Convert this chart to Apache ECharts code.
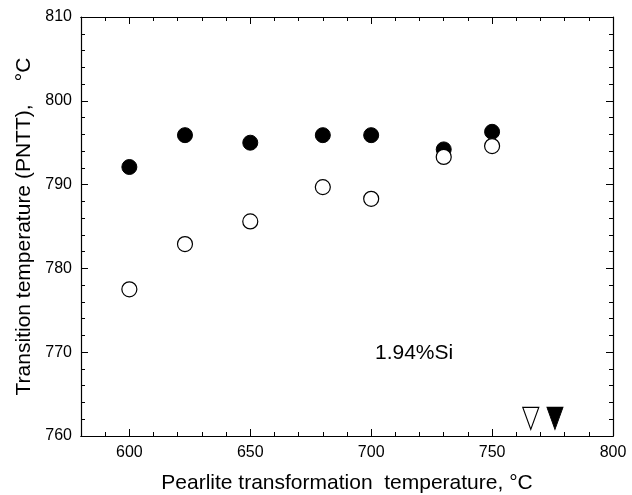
<!DOCTYPE html>
<html><head><meta charset="utf-8">
<script src="https://cdn.jsdelivr.net/npm/echarts@6/dist/echarts.min.js"></script>
<style>html,body{margin:0;padding:0;background:#fff}#c{width:632px;height:495px}</style>
</head><body><div id="c"></div>
<script>
const xTemps = [600, 623, 650, 680, 700, 730, 750];
const filledVals = [792.1, 795.9, 795.0, 795.9, 795.9, 794.2, 796.3];
const openVals = [777.5, 782.9, 785.6, 789.7, 788.3, 793.3, 794.6];
const openArrowX = 766;
const filledArrowX = 776;
const arrowY = 762.1;
const xTickLabels = [600, 650, 700, 750, 800];
const annotation = '1.94%Si';
const xName = 'Pearlite transformation  temperature, °C';
const yName = 'Transition temperature (PNTT),    °C';

const font = 'Liberation Sans, Arial, sans-serif';
const chart = echarts.init(document.getElementById('c'));
const line = {show: true, onZero: false, lineStyle: {color: '#000', width: 1.2}};
function xAx(pos, major, extra) {
  return Object.assign({
    type: 'value', min: 580, max: 800, interval: 10, position: pos,
    axisLine: line,
    axisTick: major
      ? {show: true, inside: true, length: 7, customValues: xTickLabels, lineStyle: {color: '#000', width: 1}}
      : {show: true, inside: true, length: 4, lineStyle: {color: '#000', width: 1}},
    axisLabel: {show: false},
    splitLine: {show: false}
  }, extra || {});
}
chart.setOption({
  animation: false,
  grid: {left: 81, right: 19, top: 17, bottom: 59, outerBoundsMode: 'none', containLabel: false},
  xAxis: [
    xAx('bottom', false, {
      name: xName, nameLocation: 'middle', nameGap: 37,
      nameTextStyle: {fontFamily: font, fontSize: 21, color: '#000'},
      axisLabel: {show: true, customValues: xTickLabels, fontFamily: font, fontSize: 16, color: '#000', margin: 9}
    }),
    xAx('bottom', true),
    xAx('top', false),
    xAx('top', true)
  ],
  yAxis: [
    {type: 'value', min: 760, max: 810, interval: 10,
      name: yName, nameLocation: 'middle', nameGap: 43,
      nameTextStyle: {fontFamily: font, fontSize: 21, color: '#000'},
      axisLine: line,
      axisTick: {show: true, inside: true, length: 7, lineStyle: {color: '#000', width: 1}},
      minorTick: {show: true, splitNumber: 5, length: 4, lineStyle: {color: '#000', width: 1}},
      splitLine: {show: false},
      axisLabel: {fontFamily: font, fontSize: 16, color: '#000', margin: 9}},
    {type: 'value', min: 760, max: 810, interval: 10, position: 'right',
      axisLine: line,
      axisTick: {show: true, inside: true, length: 7, lineStyle: {color: '#000', width: 1}},
      minorTick: {show: true, splitNumber: 5, length: 4, lineStyle: {color: '#000', width: 1}},
      splitLine: {show: false},
      axisLabel: {show: false}}
  ],
  graphic: [{type: 'text', left: 375, top: 343, style: {text: annotation, fontFamily: font, fontSize: 21, fill: '#000'}}],
  series: [
    {type: 'scatter', data: xTemps.map((x, i) => [x, openVals[i]]), symbol: 'circle', symbolSize: 15,
      itemStyle: {color: '#fff', borderColor: '#000', borderWidth: 1.2, opacity: 1}, z: 3},
    {type: 'scatter', data: xTemps.map((x, i) => [x, filledVals[i]]), symbol: 'circle', symbolSize: 15,
      itemStyle: {color: '#000', borderColor: '#000', borderWidth: 1, opacity: 1}, z: 2},
    {type: 'scatter', data: [[openArrowX, arrowY]], symbol: 'triangle', symbolRotate: 180, symbolSize: [16, 22],
      itemStyle: {color: '#fff', borderColor: '#000', borderWidth: 1.2, opacity: 1}},
    {type: 'scatter', data: [[filledArrowX, arrowY]], symbol: 'triangle', symbolRotate: 180, symbolSize: [16, 22],
      itemStyle: {color: '#000', borderColor: '#000', borderWidth: 1, opacity: 1}}
  ]
});
</script></body></html>
